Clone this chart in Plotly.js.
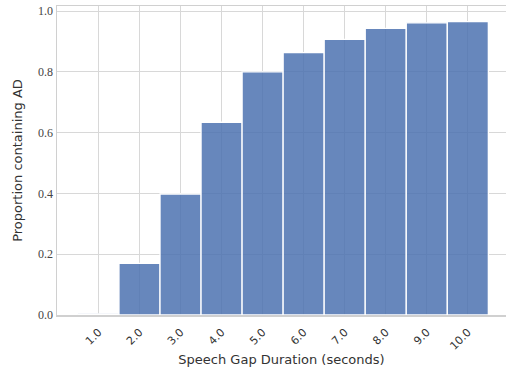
<!DOCTYPE html>
<html>
<head>
<meta charset="utf-8">
<script src="https://cdn.plot.ly/plotly-3.0.1.min.js"></script>
<style>html,body{margin:0;padding:0;background:#fff;}#chart{width:506px;height:377px;}</style>
</head>
<body>
<div id="chart"></div>
<script>
const gapSeconds = [1, 2, 3, 4, 5, 6, 7, 8, 9, 10];
const tickLabels = ["1.0", "2.0", "3.0", "4.0", "5.0", "6.0", "7.0", "8.0", "9.0", "10.0"];
const proportionAD = [0.004, 0.170, 0.398, 0.634, 0.800, 0.863, 0.907, 0.943, 0.961, 0.965];
const yTicks = [0, 0.2, 0.4, 0.6, 0.8, 1.0];
const yTickLabels = ["0.0", "0.2", "0.4", "0.6", "0.8", "1.0"];

const trace = {
  type: "bar",
  x: gapSeconds,
  y: proportionAD,
  width: 1,
  marker: { color: "rgba(76,114,176,0.85)", line: { color: "#ffffff", width: 1.3 } },
  hoverinfo: "skip"
};

const layout = {
  width: 506, height: 377,
  margin: { l: 57, r: 0, t: 6, b: 62 },
  paper_bgcolor: "#ffffff", plot_bgcolor: "#ffffff",
  showlegend: false,
  bargap: 0,
  xaxis: {
    range: [-0.01, 10.93],
    tickmode: "array", tickvals: gapSeconds, ticktext: tickLabels,
    tickangle: -45,
    ticklabelstandoff: 5,
    tickfont: { family: "DejaVu Sans, sans-serif", size: 11, color: "#333" },
    showgrid: true, gridcolor: "#d8d8d8", gridwidth: 1,
    showline: true, linecolor: "#d0d0d0", linewidth: 1.5, mirror: true,
    zeroline: false, ticks: "", ticklen: 0,
    title: { text: "Speech Gap Duration (seconds)", standoff: 3,
      font: { family: "DejaVu Sans, sans-serif", size: 13, color: "#333" } }
  },
  yaxis: {
    range: [0, 1.0165],
    tickmode: "array", tickvals: yTicks, ticktext: yTickLabels,
    tickfont: { family: "Liberation Serif, DejaVu Serif, serif", size: 12, color: "#444" },
    showgrid: true, gridcolor: "#d8d8d8", gridwidth: 1,
    showline: true, linecolor: "#d0d0d0", linewidth: 1.5, mirror: true,
    zeroline: false, ticks: "", ticklen: 0,
    title: { text: "Proportion containing AD", standoff: 12,
      font: { family: "DejaVu Sans, sans-serif", size: 13, color: "#333" } }
  }
};

Plotly.newPlot("chart", [trace], layout, { displayModeBar: false, staticPlot: true });
</script>
</body>
</html>
